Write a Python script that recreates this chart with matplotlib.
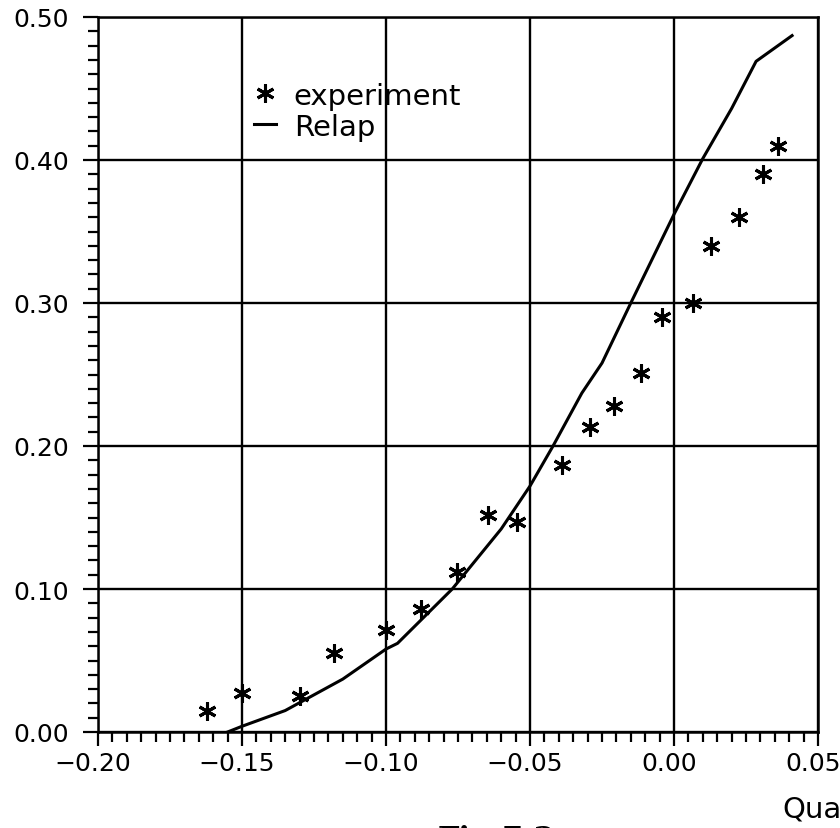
import matplotlib
matplotlib.use("Agg")
import matplotlib.pyplot as plt
import matplotlib.transforms as mtransforms
from matplotlib.ticker import MultipleLocator, FuncFormatter
from matplotlib.lines import Line2D

# experiment points
x_exp = [-0.162, -0.150, -0.130, -0.118, -0.100, -0.088, -0.0755, -0.0645, -0.0544,
         -0.039, -0.029, -0.021, -0.0115, -0.004, 0.0067, 0.0128, 0.0227, 0.031, 0.036]
y_exp = [0.015, 0.027, 0.025, 0.055, 0.071, 0.086, 0.112, 0.152, 0.147,
         0.187, 0.213, 0.228, 0.251, 0.290, 0.300, 0.340, 0.360, 0.390, 0.410]

# Relap calculation
x_relap = [-0.155, -0.150, -0.135, -0.115, -0.100, -0.096, -0.077, -0.060, -0.050,
           -0.042, -0.032, -0.025, -0.015, 0.000, 0.010, 0.020, 0.0285, 0.041]
y_relap = [0.000, 0.004, 0.015, 0.037, 0.058, 0.062, 0.100, 0.142, 0.172,
           0.200, 0.237, 0.258, 0.300, 0.362, 0.401, 0.436, 0.469, 0.487]

plt.rcParams['font.family'] = ['DejaVu Sans']

fig = plt.figure(figsize=(8.4, 8.29), dpi=100)
ax = fig.add_axes([98/840, 1 - 733/829, (818 - 98)/840, (733 - 18)/829])

ast = (6, 2, 0)
ax.plot(x_exp, y_exp, linestyle='none', marker=ast, markersize=13,
        markeredgewidth=2.2, color='black', zorder=3)
ax.plot(x_relap, y_relap, color='black', linewidth=2.2, zorder=3)


def fmt(v, pos):
    s = '%.2f' % v
    if s == '-0.00':
        s = '0.00'
    return s.replace('-', '\u2212')


ax.set_xlim(-0.20, 0.05)
ax.set_ylim(0.0, 0.50)
ax.xaxis.set_major_locator(MultipleLocator(0.05))
ax.xaxis.set_minor_locator(MultipleLocator(0.005))
ax.yaxis.set_major_locator(MultipleLocator(0.10))
ax.yaxis.set_minor_locator(MultipleLocator(0.01))
ax.xaxis.set_major_formatter(FuncFormatter(fmt))
ax.yaxis.set_major_formatter(FuncFormatter(fmt))

ax.grid(True, which='major', color='black', linewidth=1.7)
ax.tick_params(axis='both', which='both', direction='out', width=1.6,
               labelsize=18, colors='black')
ax.tick_params(axis='x', which='major', length=10, pad=4)
ax.tick_params(axis='x', which='minor', length=7)
ax.tick_params(axis='y', which='major', length=11, pad=10)
ax.tick_params(axis='y', which='minor', length=7)
for s in ax.spines.values():
    s.set_linewidth(1.8)

# x labels sit a little left of their ticks
shift = mtransforms.ScaledTranslation(-5/100, 0, fig.dpi_scale_trans)
for lab in ax.get_xticklabels():
    lab.set_transform(lab.get_transform() + shift)

handles = [Line2D([], [], linestyle='none', marker=ast, markersize=13,
                  markeredgewidth=2.2, color='black'),
           Line2D([], [], color='black', linewidth=2.2)]
ax.legend(handles, ['experiment', 'Relap'], loc='upper left',
          bbox_to_anchor=(0.197, 0.93), frameon=False, fontsize=21,
          handlelength=0.75, handletextpad=0.6, labelspacing=0.1,
          borderpad=0)

fig.text(782/840, 1 - 818/829, 'Quality', fontsize=21, va='baseline', ha='left')
fig.text(438/840, 1 - 825/829, 'Fig.7.2', fontsize=22, fontweight='bold',
         family='DejaVu Serif', va='top', ha='left')

fig.savefig('out.png', dpi=100, facecolor='white')
